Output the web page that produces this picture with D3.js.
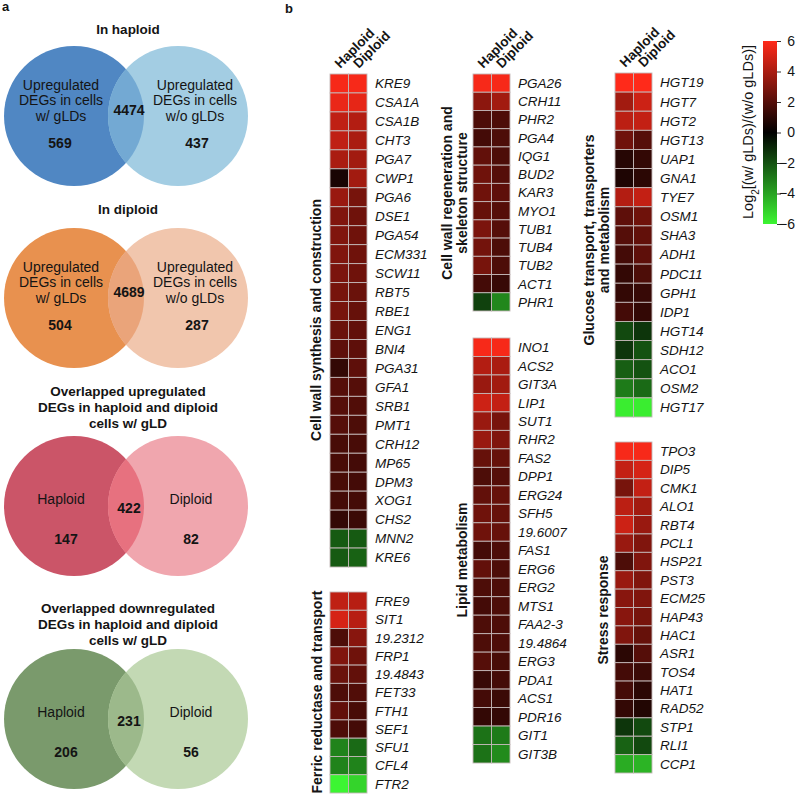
<!DOCTYPE html>
<html><head><meta charset="utf-8">
<script src="https://cdn.jsdelivr.net/npm/d3@7"></script>
<style>body{margin:0;background:#fff} svg{display:block} text{font-family:Arial,"Liberation Sans",sans-serif;fill:#141414}</style>
</head><body><svg id="c" width="800" height="796"></svg>
<script>
// ---------- DATA ----------
const vennTitles = [
  ["In haploid"],
  ["In diploid"],
  ["Overlapped upregulated","DEGs in haploid and diploid","cells w/ gLD"],
  ["Overlapped downregulated","DEGs in haploid and diploid","cells w/ gLD"]
];
const vennLeftLabels = [["Upregulated","DEGs in cells","w/ gLDs"],["Upregulated","DEGs in cells","w/ gLDs"],["Haploid"],["Haploid"]];
const vennRightLabels = [["Upregulated","DEGs in cells","w/o gLDs"],["Upregulated","DEGs in cells","w/o gLDs"],["Diploid"],["Diploid"]];
const vennLeftOnly = [569, 504, 147, 206];
const vennShared = [4474, 4689, 422, 231];
const vennRightOnly = [437, 287, 82, 56];

const conditions = ["Haploid","Diploid"];

const cellWallGenes = ["KRE9","CSA1A","CSA1B","CHT3","PGA7","CWP1","PGA6","DSE1","PGA54","ECM331","SCW11","RBT5","RBE1","ENG1","BNI4","PGA31","GFA1","SRB1","PMT1","CRH12","MP65","DPM3","XOG1","CHS2","MNN2","KRE6"];
const cellWallHaploid = [5.8,5.5,4.5,4.5,4.0,0.6,3.6,3.0,3.0,3.0,2.9,2.8,2.8,2.5,2.2,1.2,2.0,2.0,2.0,1.7,1.7,1.7,1.6,1.2,-2.2,-2.2];
const cellWallDiploid = [5.8,5.4,4.2,4.0,3.8,3.8,2.8,2.6,2.6,2.6,2.6,2.5,2.4,2.3,2.2,2.2,2.0,1.9,1.8,1.7,1.6,1.6,1.6,1.4,-2.2,-2.4];

const ferricGenes = ["FRE9","SIT1","19.2312","FRP1","19.4843","FET33","FTH1","SEF1","SFU1","CFL4","FTR2"];
const ferricHaploid = [4.5,5.0,1.8,3.0,2.5,1.8,2.3,1.8,-3.2,-3.2,-6.0];
const ferricDiploid = [4.3,4.3,3.2,2.6,2.3,1.9,1.7,1.6,-2.6,-3.2,-5.2];

const regenGenes = ["PGA26","CRH11","PHR2","PGA4","IQG1","BUD2","KAR3","MYO1","TUB1","TUB4","TUB2","ACT1","PHR1"];
const regenHaploid = [5.8,3.3,1.8,1.6,2.3,2.6,2.6,2.4,2.9,2.7,2.8,1.6,-1.6];
const regenDiploid = [5.8,3.8,1.8,1.8,1.8,2.0,2.2,2.0,2.0,1.8,1.8,1.3,-3.3];

const lipidGenes = ["INO1","ACS2","GIT3A","LIP1","SUT1","RHR2","FAS2","DPP1","ERG24","SFH5","19.6007","FAS1","ERG6","ERG2","MTS1","FAA2-3","19.4864","ERG3","PDA1","ACS1","PDR16","GIT1","GIT3B"];
const lipidHaploid = [5.8,4.2,3.6,4.8,3.6,3.6,2.4,1.8,2.3,2.6,2.6,1.6,2.3,1.8,1.6,1.8,1.8,2.0,1.3,1.6,1.2,-2.8,-2.8];
const lipidDiploid = [5.8,4.0,3.8,4.6,2.8,3.0,2.4,2.0,2.4,2.4,2.4,1.8,1.8,1.8,1.8,1.8,1.8,1.7,1.6,1.4,1.2,-3.0,-3.4];

const glucoseGenes = ["HGT19","HGT7","HGT2","HGT13","UAP1","GNA1","TYE7","OSM1","SHA3","ADH1","PDC11","GPH1","IDP1","HGT14","SDH12","ACO1","OSM2","HGT17"];
const glucoseHaploid = [6.0,3.8,4.4,2.6,0.9,0.7,4.2,2.2,2.0,1.6,1.2,1.2,1.6,-1.8,-1.3,-2.3,-3.0,-5.8];
const glucoseDiploid = [6.0,4.8,4.6,2.0,1.2,1.0,4.6,2.6,2.3,2.2,1.8,1.3,1.2,-1.3,-2.0,-2.0,-2.6,-5.8];

const stressGenes = ["TPO3","DIP5","CMK1","ALO1","RBT4","PCL1","HSP21","PST3","ECM25","HAP43","HAC1","ASR1","TOS4","HAT1","RAD52","STP1","RLI1","CCP1"];
const stressHaploid = [5.8,4.6,2.8,4.4,4.8,3.6,1.8,3.6,3.2,3.2,3.0,1.0,1.6,1.6,1.2,-1.3,-2.4,-4.2];
const stressDiploid = [5.8,5.0,4.6,3.8,3.6,3.0,3.0,3.0,3.0,2.8,2.4,2.0,1.4,1.0,0.8,-1.8,-1.8,-4.4];

const colorTicks = [6,4,2,0,-2,-4,-6];

// ---------- STYLE / LAYOUT ----------
const svg = d3.select("#c");
const vennColors = [
  {L:"#5087c3", R:"#a3cde3", O:"#73a9d3"},
  {L:"#e8914f", R:"#f1c6ad", O:"#eaa47a"},
  {L:"#cb5568", R:"#f0a6ae", O:"#e7717f"},
  {L:"#7a9a6c", R:"#c3d9b4", O:"#9cb98b"}
];
const vennCY = [116, 298, 506, 719];
const vennTitleY = [29, 209, 391, 608];
const cxL = 74, cxR = 178, rad = 70;

svg.append("text").attr("x",2).attr("y",11).attr("font-size",13).attr("font-weight","bold").text("a");
svg.append("text").attr("x",285).attr("y",13).attr("font-size",13).attr("font-weight","bold").text("b");

const defs = svg.append("defs");
vennCY.forEach((cy,i) => {
  const g = svg.append("g");
  const c = vennColors[i];
  defs.append("clipPath").attr("id","clipL"+i).append("circle").attr("cx",cxL).attr("cy",cy).attr("r",rad);
  g.append("circle").attr("cx",cxL).attr("cy",cy).attr("r",rad).attr("fill",c.L);
  g.append("circle").attr("cx",cxR).attr("cy",cy).attr("r",rad).attr("fill",c.R);
  g.append("circle").attr("cx",cxR).attr("cy",cy).attr("r",rad).attr("fill",c.O).attr("clip-path","url(#clipL"+i+")");
  vennTitles[i].forEach((t,k) => {
    g.append("text").attr("x",128).attr("y",vennTitleY[i]+k*16).attr("dy","0.35em")
      .attr("text-anchor","middle").attr("font-size",13.5).attr("font-weight","bold").text(t);
  });
  const multi = vennLeftLabels[i].length > 1;
  const lineY = multi ? [cy-31, cy-16, cy] : [cy-7];
  vennLeftLabels[i].forEach((t,k) => {
    g.append("text").attr("x",61).attr("y",lineY[k]).attr("dy","0.35em").attr("text-anchor","middle")
      .attr("font-size",14).text(t);
  });
  vennRightLabels[i].forEach((t,k) => {
    g.append("text").attr("x",multi?195:191).attr("y",lineY[k]).attr("dy","0.35em").attr("text-anchor","middle")
      .attr("font-size",14).text(t);
  });
  const numY = multi ? cy+27 : cy+33;
  g.append("text").attr("x",multi?60:66).attr("y",numY).attr("dy","0.35em").attr("text-anchor","middle")
    .attr("font-size",14).attr("font-weight","bold").text(vennLeftOnly[i]);
  g.append("text").attr("x",multi?197:191).attr("y",numY).attr("dy","0.35em").attr("text-anchor","middle")
    .attr("font-size",14).attr("font-weight","bold").text(vennRightOnly[i]);
  g.append("text").attr("x",129).attr("y",multi?cy-6:cy+2).attr("dy","0.35em").attr("text-anchor","middle")
    .attr("font-size",14).attr("font-weight","bold").text(vennShared[i]);
});

// ---------- HEATMAPS ----------
const color = d3.scaleLinear().domain([-6,0,6]).range(["#3cf532","#000000","#ff2a1a"]).clamp(true);

function panel(genes, hap, dip, x0, top, bottom, labelLines, labelX, labelY, header) {
  const g = svg.append("g");
  const x = d3.scaleBand().domain(conditions).range([x0, x0+37]);
  const y = d3.scaleBand().domain(genes).range([top, bottom]);
  const rows = genes.map((gname,i) => ({gene:gname, vals:[hap[i], dip[i]]}));
  rows.forEach(r => {
    conditions.forEach((cnd,j) => {
      g.append("rect").attr("x",x(cnd)).attr("y",y(r.gene))
        .attr("width",x.bandwidth()).attr("height",y.bandwidth())
        .attr("fill",color(r.vals[j])).attr("stroke","#c4b8b8").attr("stroke-width",0.9);
    });
  });
  g.selectAll("text.gene").data(genes).enter().append("text")
    .attr("x",x0+37+8).attr("y",d=>y(d)+y.bandwidth()/2).attr("dy","0.36em")
    .attr("font-size",13.5).attr("font-style","italic").text(d=>d);
  labelLines.forEach((t,k) => {
    g.append("text").attr("transform",`translate(${labelX + k*15},${labelY}) rotate(-90)`)
      .attr("text-anchor","middle").attr("font-size",14).attr("font-weight","bold").text(t);
  });
  if (header) {
    conditions.forEach(cnd => {
      g.append("text").attr("transform",`translate(${x(cnd)+x.bandwidth()/2+1},${top-5}) rotate(-45)`)
        .attr("font-size",13.5).attr("font-weight","bold").text(cnd);
    });
  }
}

panel(cellWallGenes, cellWallHaploid, cellWallDiploid, 330, 74, 567, ["Cell wall synthesis and construction"], 321, 320, true);
panel(ferricGenes, ferricHaploid, ferricDiploid, 330, 592, 793, ["Ferric reductase and transport"], 322, 692, false);
panel(regenGenes, regenHaploid, regenDiploid, 473, 74, 311, ["Cell wall regeneration and","skeleton structure"], 452, 193, true);
panel(lipidGenes, lipidHaploid, lipidDiploid, 473, 338, 763, ["Lipid metabolism"], 467, 560, false);
panel(glucoseGenes, glucoseHaploid, glucoseDiploid, 615, 73, 417, ["Glucose transport, transporters","and metabolism"], 594, 240, true);
panel(stressGenes, stressHaploid, stressDiploid, 615, 442, 773, ["Stress response"], 608, 610, false);

// ---------- COLOR BAR ----------
const cb = d3.scaleLinear().domain([6,-6]).range([41, 224]);
const grad = defs.append("linearGradient").attr("id","cbgrad").attr("x1",0).attr("y1",0).attr("x2",0).attr("y2",1);
d3.range(6, -6.01, -1).forEach(v => {
  grad.append("stop").attr("offset", (6-v)/12).attr("stop-color", color(v));
});
svg.append("rect").attr("x",763).attr("y",cb(6)).attr("width",14).attr("height",cb(-6)-cb(6)).attr("fill","url(#cbgrad)");
const ax = svg.append("g").attr("transform","translate(777,0)")
  .call(d3.axisRight(cb).tickValues(colorTicks).tickSize(4).tickFormat(d3.format("d")));
ax.select(".domain").remove();
ax.selectAll("line").attr("stroke","#333");
ax.selectAll("text").attr("x",18).attr("text-anchor","end").attr("font-size",14).attr("font-family",null).style("fill","#141414");
const lt = svg.append("text").attr("transform","translate(753,132) rotate(-90)").attr("text-anchor","middle").attr("font-size",14.5);
lt.append("tspan").text("Log");
lt.append("tspan").attr("baseline-shift","sub").attr("font-size",10).text("2");
lt.append("tspan").text("[(w/ gLDs)/(w/o gLDs)]");
</script></body></html>
